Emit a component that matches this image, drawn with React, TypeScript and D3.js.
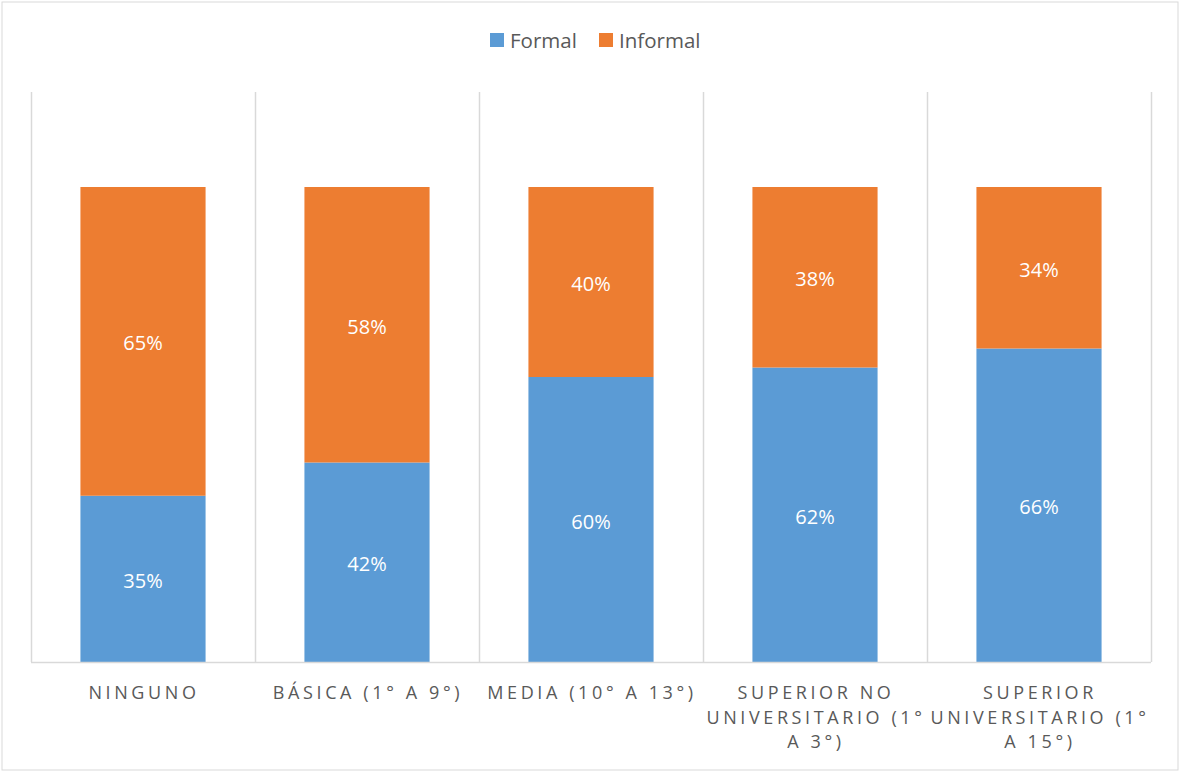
import React from "react";
import * as d3 from "d3";

const categories = [
  "NINGUNO",
  "BÁSICA (1° A 9°)",
  "MEDIA (10° A 13°)",
  "SUPERIOR NO UNIVERSITARIO (1° A 3°)",
  "SUPERIOR UNIVERSITARIO (1° A 15°)",
];
const categoryLines = [
  ["NINGUNO"],
  ["BÁSICA (1° A 9°)"],
  ["MEDIA (10° A 13°)"],
  ["SUPERIOR NO", "UNIVERSITARIO (1°", "A 3°)"],
  ["SUPERIOR", "UNIVERSITARIO (1°", "A 15°)"],
];
const formal = [0.35, 0.42, 0.6, 0.62, 0.66];
const informal = [0.65, 0.58, 0.4, 0.38, 0.34];
const seriesNames = ["Formal", "Informal"];
const seriesColors = ["#5B9BD5", "#ED7D31"];

const W = 1180;
const H = 772;
const plot = { left: 31, right: 1151, top: 92, bottom: 662 };

export default function App() {
  const x = d3.scaleBand<string>().domain(categories).range([plot.left, plot.right]).padding(0);
  const y = d3.scaleLinear().domain([0, 1.2]).range([plot.bottom, plot.top]);
  const step = x.bandwidth();
  const barW = step / 1.79;
  const font = "'Open Sans', sans-serif";
  const fmt = d3.format(".0%");

  const stackData = categories.map((c, i) => ({ cat: c, Formal: formal[i], Informal: informal[i] }));
  const stacked = d3.stack<any>().keys(seriesNames)(stackData);

  return (
    <svg width={W} height={H} style={{ position: "absolute", left: 0, top: 0, display: "block" }}>
      <rect x={0} y={0} width={W} height={H} fill="#fff" />
      <rect x={2} y={2} width={1176} height={768} fill="#fff" stroke="#d9d9d9" strokeWidth={1} />
      {d3.range(categories.length + 1).map((i) => {
        const xv = Math.round(plot.left + i * step) + 0.5;
        return <line key={i} x1={xv} x2={xv} y1={plot.top} y2={plot.bottom} stroke="#d9d9d9" strokeWidth={1.5} />;
      })}
      {stacked.map((s, si) =>
        s.map((d, i) => {
          const x0 = (x(categories[i]) as number) + (step - barW) / 2;
          const yTop = y(d[1]);
          const yBot = y(d[0]);
          return (
            <g key={si + "-" + i}>
              <rect x={x0} y={yTop} width={barW} height={yBot - yTop} fill={seriesColors[si]} />
              <text
                x={x0 + barW / 2}
                y={(yTop + yBot) / 2}
                dy="0.45em"
                textAnchor="middle"
                fill="#fff"
                fontFamily={font}
                fontSize={20}
              >
                {fmt(si === 0 ? formal[i] : informal[i])}
              </text>
            </g>
          );
        })
      )}
      <line x1={plot.left} x2={plot.right} y1={plot.bottom + 0.5} y2={plot.bottom + 0.5} stroke="#d9d9d9" strokeWidth={1.5} />
      {categoryLines.map((lines, i) => {
        const cx = (x(categories[i]) as number) + step / 2 + 1;
        return (
          <text key={i} textAnchor="middle" fill="#595959" fontFamily={font} fontSize={18} letterSpacing={3.6}>
            {lines.map((ln, j) => (
              <tspan key={j} x={cx} y={699 + j * 24.5}>
                {ln}
              </tspan>
            ))}
          </text>
        );
      })}
      {[
        { name: seriesNames[0], color: seriesColors[0], sx: 490, tx: 510 },
        { name: seriesNames[1], color: seriesColors[1], sx: 599, tx: 619 },
      ].map((l) => (
        <g key={l.name}>
          <rect x={l.sx} y={33} width={14} height={14} fill={l.color} />
          <text x={l.tx} y={47.5} fill="#595959" fontFamily={font} fontSize={20.5}>
            {l.name}
          </text>
        </g>
      ))}
    </svg>
  );
}
